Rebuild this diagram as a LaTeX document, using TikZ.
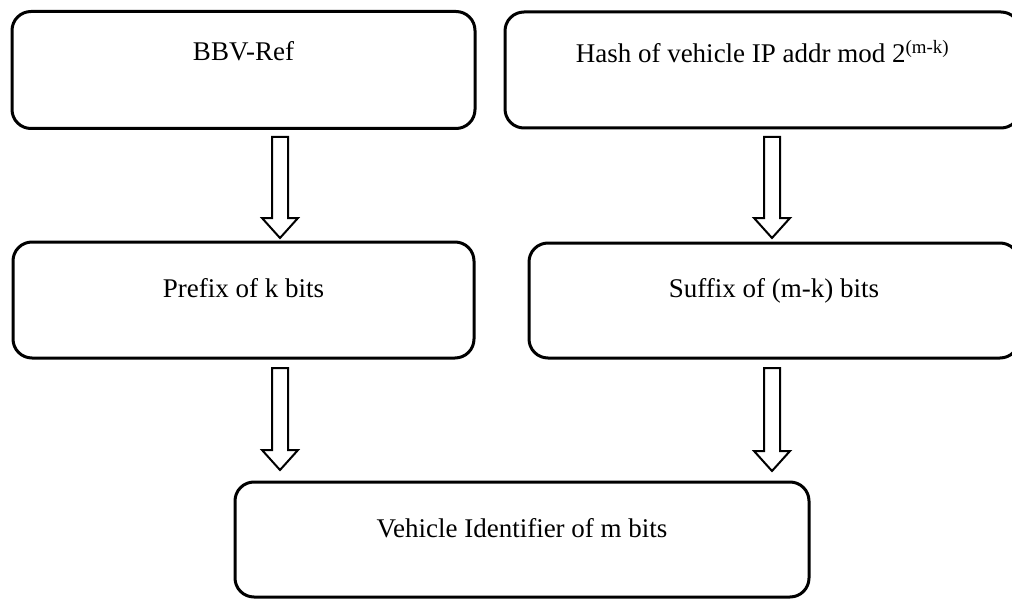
\documentclass[tikz,border=0pt]{standalone}
\usepackage{fontspec}
\setmainfont{Liberation Serif}
\usetikzlibrary{calc}

\tikzset{
  box/.style={draw, line width=3pt, rounded corners=19pt, inner sep=0pt,
    align=center, font=\fontsize{27pt}{32pt}\selectfont},
  % hollow block arrow drawn between two named points (start above, tip below)
  hollow/.style={line width=2pt, line join=miter, to path={
    let \p1=(\tikztostart), \p2=(\tikztotarget) in
    (\x1-8pt,\y1) -- (\x1+8pt,\y1) -- (\x1+8pt,\y2+20pt) -- (\x1+18pt,\y2+20pt)
    -- (\x2,\y2) -- (\x1-18pt,\y2+20pt) -- (\x1-8pt,\y2+20pt) -- cycle}}
}

\begin{document}
\begin{tikzpicture}[x=1pt,y=-1pt]
\useasboundingbox (0,0) rectangle (1012,599);
\clip (0,0) rectangle (1012,599);

% upper row
\node[box, minimum width=463pt, text height=49.5pt, text depth=67.5pt] (bbv) at (243.5,70) {BBV-Ref};
\node[box, minimum width=515pt, text height=51pt, text depth=65pt] (hash) at (762.5,70)
  {Hash of vehicle IP addr mod 2\textsuperscript{(m-k)}};

% middle row
\node[box, minimum width=461pt, text height=55pt, text depth=61pt] (prefix) at (243.5,300) {Prefix of k bits};
\node[box, minimum width=490pt, text height=54pt, text depth=61pt] (suffix) at (774,300.5) {Suffix of (m-k) bits};

% result
\node[box, minimum width=574pt, text height=55pt, text depth=60pt] (vid) at (522,539.5) {Vehicle Identifier of m bits};

% arrow end points
\coordinate (a1s) at (280,137);  \coordinate (a1e) at (280,238);
\coordinate (a2s) at (772,137);  \coordinate (a2e) at (772,238);
\coordinate (a3s) at (280,368);  \coordinate (a3e) at (280,470);
\coordinate (a4s) at (772,368);  \coordinate (a4e) at (772,471);

\draw[hollow] (a1s) to (a1e);
\draw[hollow] (a2s) to (a2e);
\draw[hollow] (a3s) to (a3e);
\draw[hollow] (a4s) to (a4e);
\end{tikzpicture}
\end{document}
